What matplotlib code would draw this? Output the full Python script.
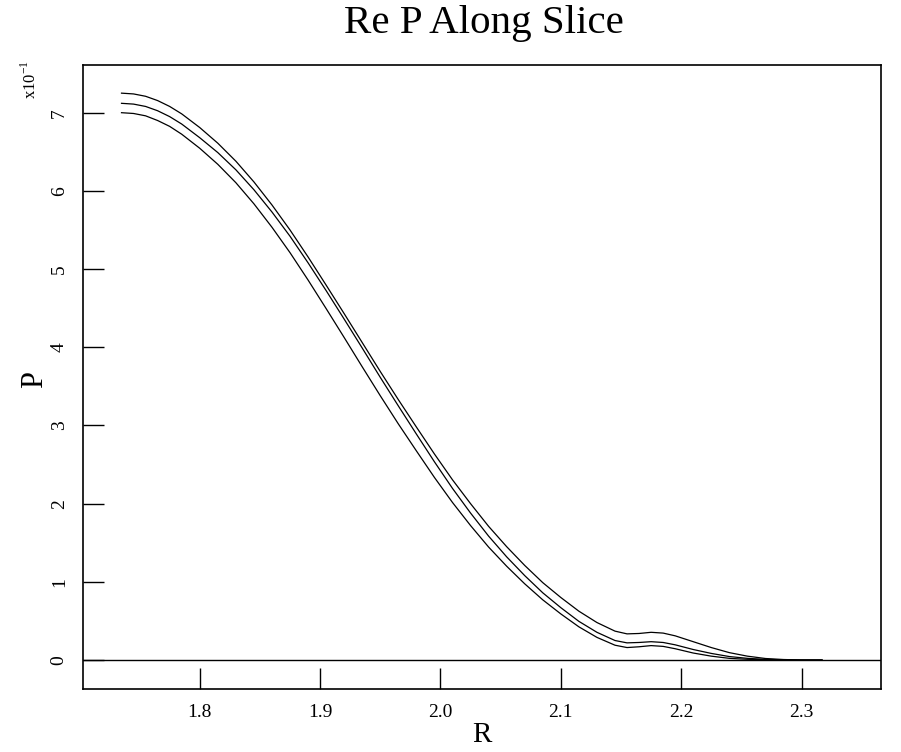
import matplotlib
matplotlib.use("Agg")
import matplotlib.pyplot as plt

# Data (P in units of 1e-1)
R = [1.735, 1.745, 1.755, 1.765, 1.775, 1.785, 1.800, 1.815, 1.830, 1.845,
     1.860, 1.875, 1.890, 1.905, 1.920, 1.935, 1.950, 1.965, 1.980, 1.995,
     2.010, 2.025, 2.040, 2.055, 2.070, 2.085, 2.100, 2.115, 2.130, 2.145,
     2.155, 2.165, 2.175, 2.185, 2.195, 2.210, 2.225, 2.240, 2.255, 2.270,
     2.285, 2.300, 2.317]
P_a = [7.25, 7.24, 7.21, 7.155, 7.08, 6.985, 6.81, 6.61, 6.38, 6.115,
       5.82, 5.50, 5.155, 4.795, 4.43, 4.06, 3.69, 3.33, 2.98, 2.635,
       2.305, 2.00, 1.71, 1.45, 1.21, 0.99, 0.80, 0.625, 0.48, 0.37,
       0.335, 0.34, 0.355, 0.345, 0.31, 0.235, 0.16, 0.095, 0.05, 0.02,
       0.007, 0.001, 0.0]
P_b = [7.12, 7.11, 7.08, 7.025, 6.95, 6.855, 6.68, 6.49, 6.27, 6.015,
       5.73, 5.42, 5.08, 4.725, 4.36, 3.99, 3.615, 3.25, 2.89, 2.535,
       2.195, 1.88, 1.585, 1.32, 1.08, 0.86, 0.67, 0.495, 0.355, 0.25,
       0.22, 0.225, 0.235, 0.225, 0.195, 0.135, 0.085, 0.045, 0.022, 0.009,
       0.003, 0.0, 0.0]
P_c = [7.00, 6.99, 6.96, 6.90, 6.825, 6.725, 6.545, 6.34, 6.105, 5.835,
       5.535, 5.21, 4.86, 4.495, 4.125, 3.75, 3.38, 3.02, 2.675, 2.335,
       2.015, 1.72, 1.445, 1.20, 0.975, 0.77, 0.59, 0.425, 0.29, 0.19,
       0.16, 0.17, 0.185, 0.175, 0.145, 0.09, 0.05, 0.022, 0.01, 0.004,
       0.001, 0.0, 0.0]
x_ticks = [1.8, 1.9, 2.0, 2.1, 2.2, 2.3]
x_tick_labels = ["1.8", "1.9", "2.0", "2.1", "2.2", "2.3"]
y_ticks = [0, 1, 2, 3, 4, 5, 6, 7]

plt.rcParams['font.family'] = ['Liberation Serif', 'DejaVu Serif']

W, H = 901, 752
fig = plt.figure(figsize=(W / 100, H / 100), dpi=100)
left, right, top, bottom = 83, 881, 65, 689
ax = fig.add_axes([left / W, 1 - bottom / H, (right - left) / W, (bottom - top) / H])

for series in (P_a, P_b, P_c):
    ax.plot(R, series, color='black', lw=0.9, solid_joinstyle='round')
ax.axhline(0, color='black', lw=1.0)

ax.set_xlim(1.703, 2.366)
ax.set_ylim(-0.37, 7.61)

ax.set_xticks(x_ticks)
ax.set_xticklabels(x_tick_labels)
ax.set_yticks(y_ticks)
ax.tick_params(axis='both', direction='in', length=15, width=1.0, labelsize=14,
               top=False, right=False)
ax.tick_params(axis='y', pad=11)
ax.tick_params(axis='x', pad=11)
for lab in ax.get_yticklabels():
    lab.set_rotation(90)
    lab.set_va('center')

for s in ax.spines.values():
    s.set_linewidth(1.2)

fig.text(484 / W, 1 - 23 / H, "Re P Along Slice", ha='center', va='center', fontsize=29.5)
fig.text(482 / W, 1 - 735 / H, "R", ha='center', va='center', fontsize=21)
fig.text(35 / W, 1 - 380 / H, "P", ha='center', va='center', fontsize=22, rotation=90)
fig.text(30 / W, 1 - 80 / H, r"x10$^{\mathregular{-1}}$", ha='center', va='center', fontsize=12,
         rotation=90)

fig.savefig("out.png", dpi=100)
